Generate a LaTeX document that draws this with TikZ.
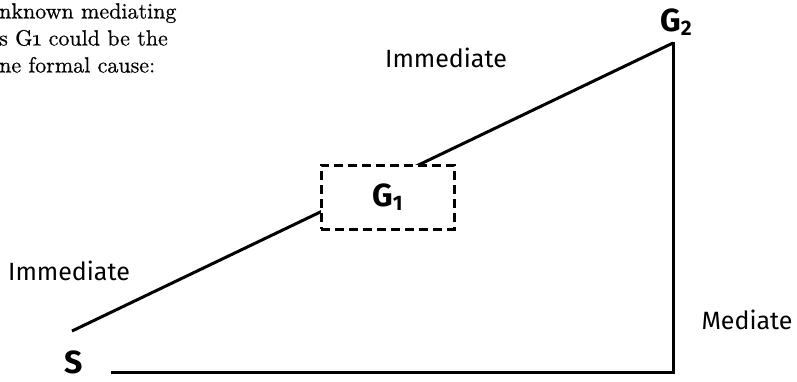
\documentclass[tikz,border=0pt]{standalone}
\usepackage{fontspec}
\setsansfont{Fira Sans}
\newfontfamily\notefont{lmroman10-regular.otf}[Numbers=OldStyle, FakeBold=0.6]
\usetikzlibrary{positioning}

\newcommand{\lowidx}[1]{\raisebox{-0.12em}{\fontsize{21}{21}\selectfont #1}}

\tikzset{
  stroke/.style={line width=3pt},
  lbl/.style={font=\fontsize{25}{30}\selectfont\sffamily, inner sep=0pt},
  vertex/.style={font=\fontsize{32}{36}\selectfont\sffamily\bfseries, inner sep=0pt},
  midbox/.style={draw, dash pattern=on 9pt off 5pt, line width=3pt, fill=white,
    minimum width=133pt, minimum height=64pt, inner sep=0pt}
}

\begin{document}
\begin{tikzpicture}[x=1pt,y=-1pt]
\useasboundingbox (0,0) rectangle (797,381);

% clipped note in the upper left corner
\begin{scope}
\clip (0,0) rectangle (300,100);
\node[anchor=north west, align=left, inner sep=0pt,
      font=\notefont\bfseries\fontsize{22}{27}\selectfont] (note) at (-1,3)
  {nknown mediating\\s G1 could be the\\ne formal cause:};
\end{scope}

\coordinate (sEnd) at (72,331);
\coordinate (top) at (673,43);
\coordinate (base) at (112,372);
\coordinate (corner) at (673,372);

\draw[stroke] (sEnd) -- (top);
\draw[stroke, line cap=rect] (base) -- (corner) -- (top);

\node[midbox] (box) at (387.5,197) {};
\node[vertex] (G1) at (box.center) {G\lowidx{1}};
\node[vertex] (G2) at (676,22) {G\lowidx{2}};
\node[vertex] (S) at (74,362) {S};

\node[lbl] (upper) at (446,58) {Immediate};
\node[lbl] (lower) at (69,271) {Immediate};
\node[lbl] (side) at (747,320) {Mediate};
\end{tikzpicture}
\end{document}
